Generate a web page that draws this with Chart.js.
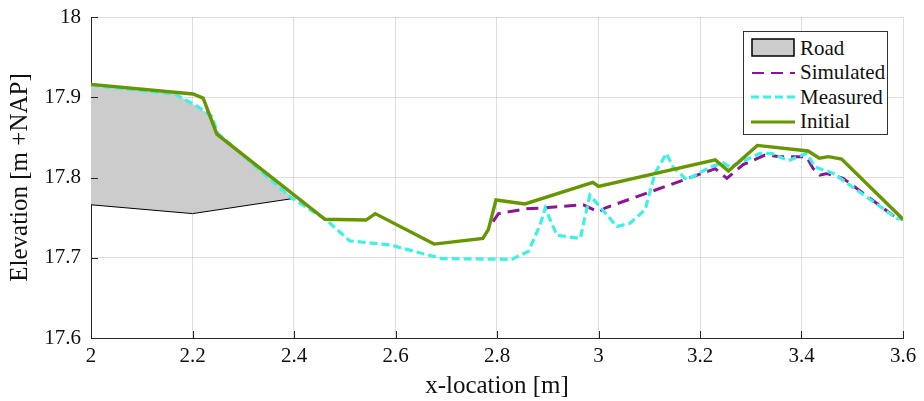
<!DOCTYPE html>
<html>
<head>
<meta charset="utf-8">
<script src="https://cdn.jsdelivr.net/npm/chart.js@4"></script>
<style>
  body { margin: 0; background: #fff; }
  #caja { position: relative; width: 924px; height: 401px; }
  #leyenda {
    position: absolute; left: 743px; top: 31px; width: 143px; height: 102px;
    border: 1px solid #333; background: #fff;
    font-family: "Liberation Serif", "Times New Roman", Tinos, "DejaVu Serif", serif; font-size: 21px; color: #111;
  }
  .fila { position: absolute; left: 7px; height: 24px; display: flex; align-items: center; }
  .fila svg { margin-right: 5px; }
</style>
</head>
<body>
<div id="caja">
  <canvas id="grafica" width="924" height="401"></canvas>
  <div id="leyenda"></div>
</div>
<script>
// Datos
var carreteraArribaX = [2, 2.166, 2.211, 2.238, 2.25, 2.4];
var carreteraArribaY = [17.915, 17.904, 17.888, 17.876, 17.855, 17.774];
var carreteraAbajoX = [2, 2.2, 2.4];
var carreteraAbajoY = [17.766, 17.755, 17.774];

var simuladoX = [2.792, 2.803, 2.858, 2.891, 2.970, 3.0, 3.013, 3.23, 3.253, 3.285, 3.328, 3.358, 3.41, 3.423, 3.436, 3.45, 3.482, 3.584, 3.6];
var simuladoY = [17.745, 17.755, 17.761, 17.762, 17.766, 17.757, 17.762, 17.811, 17.799, 17.816, 17.828, 17.826, 17.826, 17.811, 17.803, 17.805, 17.799, 17.751, 17.748];

var medidoX = [2, 2.166, 2.211, 2.238, 2.25, 2.392, 2.464, 2.51, 2.589, 2.691, 2.829, 2.862, 2.885, 2.895, 2.918, 2.964, 2.983, 3.036, 3.062, 3.092, 3.111, 3.134, 3.147, 3.174, 3.22, 3.246, 3.259, 3.318, 3.341, 3.374, 3.41, 3.427, 3.463, 3.588, 3.6];
var medidoY = [17.915, 17.904, 17.888, 17.876, 17.855, 17.776, 17.747, 17.721, 17.716, 17.699, 17.698, 17.708, 17.741, 17.762, 17.728, 17.724, 17.778, 17.739, 17.743, 17.760, 17.805, 17.830, 17.813, 17.797, 17.813, 17.818, 17.813, 17.830, 17.830, 17.821, 17.830, 17.813, 17.805, 17.749, 17.748];

var inicialX = [2, 2.201, 2.221, 2.248, 2.461, 2.542, 2.560, 2.676, 2.772, 2.783, 2.798, 2.855, 2.989, 3.0, 3.230, 3.256, 3.313, 3.413, 3.435, 3.453, 3.479, 3.6];
var inicialY = [17.916, 17.904, 17.899, 17.854, 17.748, 17.747, 17.755, 17.717, 17.724, 17.735, 17.772, 17.767, 17.794, 17.789, 17.822, 17.808, 17.840, 17.833, 17.824, 17.826, 17.823, 17.748];

var nombres = ['Road', 'Simulated', 'Measured', 'Initial'];

var colorVerde = 'rgb(102,150,0)';
var colorCian = 'rgb(60,242,228)';
var colorMorado = 'rgb(140,20,150)';
var colorGris = 'rgb(204,204,204)';

function puntos(xs, ys) {
    return xs.map(function (x, i) { return { x: x, y: ys[i] }; });
}

// Marcas hacia dentro como en MATLAB
var marcasDentro = {
    id: 'marcasDentro',
    afterDraw: function (chart) {
        var ctx = chart.ctx;
        var a = chart.chartArea;
        var sx = chart.scales.x, sy = chart.scales.y;
        ctx.save();
        ctx.strokeStyle = '#262626';
        ctx.lineWidth = 1;
        ctx.beginPath();
        sx.ticks.forEach(function (t) {
            var p = Math.round(sx.getPixelForValue(t.value)) + 0.5;
            ctx.moveTo(p, a.bottom); ctx.lineTo(p, a.bottom - 7);
        });
        sy.ticks.forEach(function (t) {
            var p = Math.round(sy.getPixelForValue(t.value)) + 0.5;
            ctx.moveTo(a.left, p); ctx.lineTo(a.left + 7, p);
        });
        ctx.stroke();
        ctx.restore();
    }
};

var fuente = '"Liberation Serif", "Times New Roman", Tinos, "DejaVu Serif", serif';

var ctx = document.getElementById('grafica').getContext('2d');
var myChart = new Chart(ctx, {
    type: 'scatter',
    data: {
        datasets: [
            {
                label: 'Initial',
                data: puntos(inicialX, inicialY),
                showLine: true, borderColor: colorVerde, borderWidth: 3.4,
                pointRadius: 0, fill: false
            },
            {
                label: 'Measured',
                data: puntos(medidoX, medidoY),
                showLine: true, borderColor: colorCian, borderWidth: 3.2,
                borderDash: [8, 4], pointRadius: 0, fill: false
            },
            {
                label: 'Simulated',
                data: puntos(simuladoX, simuladoY),
                showLine: true, borderColor: colorMorado, borderWidth: 3,
                borderDash: [12, 7], pointRadius: 0, fill: false
            },
            {
                label: 'RoadBottom',
                data: puntos(carreteraAbajoX, carreteraAbajoY),
                showLine: true, borderColor: '#000', borderWidth: 1,
                pointRadius: 0, fill: false
            },
            {
                label: 'Road',
                data: puntos(carreteraArribaX, carreteraArribaY),
                showLine: true, borderColor: colorGris, borderWidth: 0,
                backgroundColor: colorGris, pointRadius: 0, fill: '-1'
            }
        ]
    },
    options: {
        responsive: false,
        animation: false,
        layout: { padding: { top: 17, right: 21, left: 5, bottom: 0 } },
        plugins: {
            legend: { display: false },
            tooltip: { enabled: false }
        },
        scales: {
            x: {
                type: 'linear', position: 'bottom',
                min: 2, max: 3.6,
                afterFit: function (s) { s.height = 63; s.paddingLeft = 0; s.paddingRight = 0; },
                ticks: {
                    stepSize: 0.2, color: '#111', padding: 6,
                    maxRotation: 0,
                    font: { family: fuente, size: 21 },
                    callback: function (v) { return String(parseFloat(v.toFixed(1))); }
                },
                grid: { color: 'rgba(0,0,0,0.13)', tickLength: 0, drawTicks: false },
                border: { color: '#262626', width: 1 },
                title: {
                    display: true, text: 'x-location [m]', color: '#111',
                    font: { family: fuente, size: 25 }, padding: { top: 0, bottom: 0 }
                }
            },
            y: {
                type: 'linear', position: 'left',
                min: 17.6, max: 18,
                afterFit: function (s) { s.width = 86; s.paddingTop = 0; s.paddingBottom = 0; },
                ticks: {
                    stepSize: 0.1, color: '#111', padding: 10,
                    font: { family: fuente, size: 21 },
                    callback: function (v) { return String(parseFloat(v.toFixed(1))); }
                },
                grid: { color: 'rgba(0,0,0,0.13)', tickLength: 0, drawTicks: false },
                border: { color: '#262626', width: 1 },
                title: {
                    display: true, text: 'Elevation [m +NAP]', color: '#111',
                    font: { family: fuente, size: 25 }, padding: { top: 0, bottom: 4 }
                }
            }
        }
    },
    plugins: [marcasDentro]
});

// Leyenda dentro del area del grafico
function construirLeyenda() {
    var cont = document.getElementById('leyenda');
    var muestras = {
        'Road': '<rect x="1" y="1" width="42" height="17" fill="' + colorGris + '" stroke="#000" stroke-width="1.5"/>',
        'Simulated': '<line x1="0" y1="10" x2="44" y2="10" stroke="' + colorMorado + '" stroke-width="2" stroke-dasharray="12,7" stroke-dashoffset="-1"/>',
        'Measured': '<line x1="0" y1="10" x2="44" y2="10" stroke="' + colorCian + '" stroke-width="3" stroke-dasharray="8,4"/>',
        'Initial': '<line x1="0" y1="10" x2="44" y2="10" stroke="' + colorVerde + '" stroke-width="3"/>'
    };
    nombres.forEach(function (n, i) {
        var fila = document.createElement('div');
        fila.className = 'fila';
        fila.style.top = (4 + i * 24.5) + 'px';
        fila.innerHTML = '<svg width="44" height="20">' + muestras[n] + '</svg><span>' + n + '</span>';
        cont.appendChild(fila);
    });
}
construirLeyenda();
</script>
</body>
</html>
